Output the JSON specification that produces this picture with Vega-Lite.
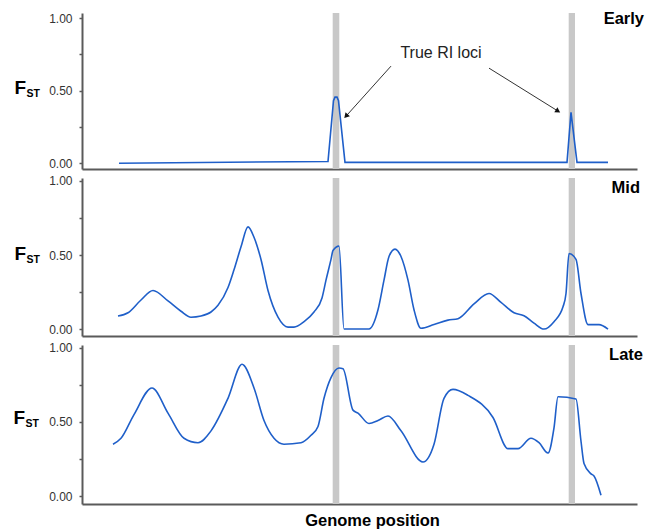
{
  "$schema": "https://vega.github.io/schema/vega-lite/v6.json",
  "padding": {"left": 13, "top": 11, "right": 4, "bottom": 2},
  "spacing": 9,
  "bounds": "flush",
  "config": {
    "font": "Liberation Sans",
    "view": {"stroke": null},
    "axis": {
      "grid": false,
      "labelFont": "Liberation Sans",
      "labelFontSize": 12,
      "labelColor": "#333333",
      "domainColor": "#5a5a5a",
      "domainWidth": 2,
      "tickColor": "#5a5a5a",
      "tickSize": 3,
      "tickWidth": 1.5,
      "labelPadding": 7,
      "titleFont": "Liberation Sans",
      "titleColor": "#000000"
    }
  },
  "datasets": {
    "loci": [
      {"start": 250.7, "end": 257.3},
      {"start": 486.7, "end": 493}
    ],
    "early": [
      {"pos": 37, "fst": 0.0},
      {"pos": 246, "fst": 0.012},
      {"pos": 251.5, "fst": 0.43},
      {"pos": 253, "fst": 0.455},
      {"pos": 255, "fst": 0.455},
      {"pos": 256.5, "fst": 0.43},
      {"pos": 263, "fst": 0.006},
      {"pos": 485, "fst": 0.006},
      {"pos": 489, "fst": 0.35},
      {"pos": 495, "fst": 0.006},
      {"pos": 526, "fst": 0.006}
    ],
    "mid": [
      {"pos": 36, "fst": 0.088},
      {"pos": 46, "fst": 0.11},
      {"pos": 59, "fst": 0.196},
      {"pos": 71, "fst": 0.26},
      {"pos": 86, "fst": 0.19},
      {"pos": 99, "fst": 0.12},
      {"pos": 109, "fst": 0.08},
      {"pos": 119, "fst": 0.088},
      {"pos": 129, "fst": 0.115},
      {"pos": 136, "fst": 0.16},
      {"pos": 146, "fst": 0.28},
      {"pos": 152, "fst": 0.4},
      {"pos": 159, "fst": 0.555},
      {"pos": 166, "fst": 0.69},
      {"pos": 172, "fst": 0.62},
      {"pos": 179, "fst": 0.47},
      {"pos": 186, "fst": 0.26},
      {"pos": 196, "fst": 0.08},
      {"pos": 206, "fst": 0.013},
      {"pos": 212, "fst": 0.013},
      {"pos": 222, "fst": 0.05},
      {"pos": 232, "fst": 0.115},
      {"pos": 240, "fst": 0.21},
      {"pos": 244, "fst": 0.33},
      {"pos": 249, "fst": 0.47},
      {"pos": 251, "fst": 0.53},
      {"pos": 257, "fst": 0.56},
      {"pos": 262, "fst": 0.0},
      {"pos": 287, "fst": 0.0},
      {"pos": 296, "fst": 0.13},
      {"pos": 302, "fst": 0.33},
      {"pos": 307, "fst": 0.49},
      {"pos": 313, "fst": 0.54},
      {"pos": 319, "fst": 0.49},
      {"pos": 326, "fst": 0.33},
      {"pos": 332, "fst": 0.13},
      {"pos": 339, "fst": 0.005},
      {"pos": 352, "fst": 0.03},
      {"pos": 366, "fst": 0.06},
      {"pos": 376, "fst": 0.07},
      {"pos": 392, "fst": 0.17},
      {"pos": 407, "fst": 0.24},
      {"pos": 419, "fst": 0.18},
      {"pos": 432, "fst": 0.11},
      {"pos": 442, "fst": 0.09},
      {"pos": 452, "fst": 0.04},
      {"pos": 462, "fst": 0.0},
      {"pos": 472, "fst": 0.05},
      {"pos": 481, "fst": 0.15},
      {"pos": 484, "fst": 0.24},
      {"pos": 487, "fst": 0.51},
      {"pos": 494, "fst": 0.47},
      {"pos": 499, "fst": 0.24},
      {"pos": 506, "fst": 0.03},
      {"pos": 517, "fst": 0.03},
      {"pos": 526, "fst": 0.0}
    ],
    "late": [
      {"pos": 31, "fst": 0.35},
      {"pos": 39, "fst": 0.39},
      {"pos": 52, "fst": 0.55},
      {"pos": 70, "fst": 0.73},
      {"pos": 86, "fst": 0.56},
      {"pos": 102, "fst": 0.39},
      {"pos": 116, "fst": 0.36},
      {"pos": 129, "fst": 0.44},
      {"pos": 146, "fst": 0.66},
      {"pos": 160, "fst": 0.89},
      {"pos": 172, "fst": 0.73},
      {"pos": 182, "fst": 0.51},
      {"pos": 192, "fst": 0.39},
      {"pos": 202, "fst": 0.35},
      {"pos": 219, "fst": 0.36},
      {"pos": 229, "fst": 0.41},
      {"pos": 236, "fst": 0.47},
      {"pos": 242, "fst": 0.66},
      {"pos": 249, "fst": 0.8},
      {"pos": 257, "fst": 0.865},
      {"pos": 261, "fst": 0.86},
      {"pos": 271, "fst": 0.58},
      {"pos": 276, "fst": 0.56},
      {"pos": 287, "fst": 0.49},
      {"pos": 296, "fst": 0.51},
      {"pos": 306, "fst": 0.54},
      {"pos": 319, "fst": 0.44},
      {"pos": 341, "fst": 0.23},
      {"pos": 352, "fst": 0.35},
      {"pos": 362, "fst": 0.66},
      {"pos": 371, "fst": 0.72},
      {"pos": 386, "fst": 0.68},
      {"pos": 411, "fst": 0.53},
      {"pos": 426, "fst": 0.32},
      {"pos": 436, "fst": 0.32},
      {"pos": 449, "fst": 0.39},
      {"pos": 457, "fst": 0.36},
      {"pos": 466, "fst": 0.29},
      {"pos": 472, "fst": 0.46},
      {"pos": 476, "fst": 0.67},
      {"pos": 494, "fst": 0.655},
      {"pos": 499, "fst": 0.37},
      {"pos": 502, "fst": 0.22},
      {"pos": 509, "fst": 0.15},
      {"pos": 512, "fst": 0.135},
      {"pos": 519, "fst": 0.005}
    ],
    "arrows": [
      {"id": "left", "pos": 309, "fst": 0.669, "pos2": 264, "fst2": 0.324},
      {"id": "right", "pos": 407, "fst": 0.655, "pos2": 476, "fst2": 0.359}
    ]
  },
  "vconcat": [
    {
      "width": 555,
      "height": 156,
      "resolve": {"axis": {"y": "independent"}},
      "layer": [
        {
          "data": {"name": "loci"},
          "mark": {"type": "rect", "color": "#c8c8c8"},
          "encoding": {
            "x": {"field": "start", "type": "quantitative", "scale": {"domain": [0, 555], "nice": false, "zero": false}},
            "x2": {"field": "end"}
          }
        },
        {
          "data": {"name": "early"},
          "mark": {"type": "line", "color": "#1f5fc9", "strokeWidth": 1.6, "interpolate": "linear"},
          "encoding": {
            "x": {"field": "pos", "type": "quantitative", "scale": {"domain": [0, 555], "nice": false, "zero": false},
                  "axis": {"title": null, "labels": false, "ticks": false}},
            "y": {"field": "fst", "type": "quantitative", "scale": {"domain": [-0.04, 1.035], "nice": false, "zero": false},
                  "axis": {"values": [0, 0.25, 0.5, 0.75, 1],
                           "labelExpr": "datum.value == 0.25 || datum.value == 0.75 ? '' : format(datum.value, '.2f')",
                           "title": "F", "titleAngle": 0, "titleFontSize": 19, "titleFontWeight": "bold",
                           "titleAlign": "left", "titleBaseline": "middle", "titleX": -68, "titleY": 74}}
          }
        },
        {
          "data": {"values": [{"pos": 555, "fst": 0.993, "label": "Early"}]},
          "mark": {"type": "text", "align": "right", "baseline": "middle", "dx": 7, "fontSize": 16.5, "fontWeight": "bold", "color": "#000000"},
          "encoding": {
            "x": {"field": "pos", "type": "quantitative", "scale": {"domain": [0, 555], "nice": false, "zero": false}},
            "y": {"field": "fst", "type": "quantitative", "scale": {"domain": [-0.04, 1.035], "nice": false, "zero": false},
                  "axis": {"orient": "left", "title": "ST", "labels": false, "ticks": false, "domain": false,
                           "titleAngle": 0, "titleFontSize": 10.5, "titleFontWeight": "bold",
                           "titleAlign": "left", "titleBaseline": "middle", "titleX": -56, "titleY": 80}},
            "text": {"field": "label"}
          }
        },
        {
          "data": {"values": [{"pos": 359, "fst": 0.759, "label": "True RI loci"}]},
          "mark": {"type": "text", "align": "center", "baseline": "middle", "fontSize": 16, "color": "#222222"},
          "encoding": {
            "x": {"field": "pos", "type": "quantitative", "scale": {"domain": [0, 555], "nice": false, "zero": false}},
            "y": {"field": "fst", "type": "quantitative", "scale": {"domain": [-0.04, 1.035], "nice": false, "zero": false}, "axis": null},
            "text": {"field": "label"}
          }
        },
        {
          "data": {"name": "arrows"},
          "mark": {"type": "rule", "color": "#333333", "strokeWidth": 1},
          "encoding": {
            "x": {"field": "pos", "type": "quantitative", "scale": {"domain": [0, 555], "nice": false, "zero": false}},
            "x2": {"field": "pos2"},
            "y": {"field": "fst", "type": "quantitative", "scale": {"domain": [-0.04, 1.035], "nice": false, "zero": false}, "axis": null},
            "y2": {"field": "fst2"}
          }
        },
        {
          "data": {"name": "arrows"},
          "transform": [{"filter": "datum.id == 'left'"}],
          "mark": {"type": "point", "shape": "triangle-up", "filled": true, "color": "#111111", "size": 35, "angle": 222, "opacity": 1},
          "encoding": {
            "x": {"field": "pos2", "type": "quantitative", "scale": {"domain": [0, 555], "nice": false, "zero": false}},
            "y": {"field": "fst2", "type": "quantitative", "scale": {"domain": [-0.04, 1.035], "nice": false, "zero": false}, "axis": null}
          }
        },
        {
          "data": {"name": "arrows"},
          "transform": [{"filter": "datum.id == 'right'"}],
          "mark": {"type": "point", "shape": "triangle-up", "filled": true, "color": "#111111", "size": 35, "angle": 122, "opacity": 1},
          "encoding": {
            "x": {"field": "pos2", "type": "quantitative", "scale": {"domain": [0, 555], "nice": false, "zero": false}},
            "y": {"field": "fst2", "type": "quantitative", "scale": {"domain": [-0.04, 1.035], "nice": false, "zero": false}, "axis": null}
          }
        }
      ]
    },
    {
      "width": 555,
      "height": 158,
      "resolve": {"axis": {"y": "independent"}},
      "layer": [
        {
          "data": {"name": "loci"},
          "mark": {"type": "rect", "color": "#c8c8c8"},
          "encoding": {
            "x": {"field": "start", "type": "quantitative", "scale": {"domain": [0, 555], "nice": false, "zero": false}},
            "x2": {"field": "end"}
          }
        },
        {
          "data": {"name": "mid"},
          "mark": {"type": "line", "color": "#1f5fc9", "strokeWidth": 1.6, "interpolate": "monotone"},
          "encoding": {
            "x": {"field": "pos", "type": "quantitative", "scale": {"domain": [0, 555], "nice": false, "zero": false},
                  "axis": {"title": null, "labels": false, "ticks": false}},
            "y": {"field": "fst", "type": "quantitative", "scale": {"domain": [-0.047, 1.02], "nice": false, "zero": false},
                  "axis": {"values": [0, 0.25, 0.5, 0.75, 1],
                           "labelExpr": "datum.value == 0.25 || datum.value == 0.75 ? '' : format(datum.value, '.2f')",
                           "title": "F", "titleAngle": 0, "titleFontSize": 19, "titleFontWeight": "bold",
                           "titleAlign": "left", "titleBaseline": "middle", "titleX": -68, "titleY": 75}}
          }
        },
        {
          "data": {"values": [{"pos": 555, "fst": 0.953, "label": "Mid"}]},
          "mark": {"type": "text", "align": "right", "baseline": "middle", "dx": 3, "fontSize": 16.5, "fontWeight": "bold", "color": "#000000"},
          "encoding": {
            "x": {"field": "pos", "type": "quantitative", "scale": {"domain": [0, 555], "nice": false, "zero": false}},
            "y": {"field": "fst", "type": "quantitative", "scale": {"domain": [-0.047, 1.02], "nice": false, "zero": false},
                  "axis": {"orient": "left", "title": "ST", "labels": false, "ticks": false, "domain": false,
                           "titleAngle": 0, "titleFontSize": 10.5, "titleFontWeight": "bold",
                           "titleAlign": "left", "titleBaseline": "middle", "titleX": -56, "titleY": 81}},
            "text": {"field": "label"}
          }
        }
      ]
    },
    {
      "width": 555,
      "height": 159,
      "resolve": {"axis": {"y": "independent"}},
      "layer": [
        {
          "data": {"name": "loci"},
          "mark": {"type": "rect", "color": "#c8c8c8"},
          "encoding": {
            "x": {"field": "start", "type": "quantitative", "scale": {"domain": [0, 555], "nice": false, "zero": false}},
            "x2": {"field": "end"}
          }
        },
        {
          "data": {"name": "late"},
          "mark": {"type": "line", "color": "#1f5fc9", "strokeWidth": 1.6, "interpolate": "monotone"},
          "encoding": {
            "x": {"field": "pos", "type": "quantitative", "scale": {"domain": [0, 555], "nice": false, "zero": false},
                  "axis": {"title": "Genome position", "labels": false, "ticks": false,
                           "titleFontSize": 16.5, "titleFontWeight": "bold", "titleX": 290, "titlePadding": 8}},
            "y": {"field": "fst", "type": "quantitative", "scale": {"domain": [-0.054, 1.02], "nice": false, "zero": false},
                  "axis": {"values": [0, 0.25, 0.5, 0.75, 1],
                           "labelExpr": "datum.value == 0.25 || datum.value == 0.75 ? '' : format(datum.value, '.2f')",
                           "title": "F", "titleAngle": 0, "titleFontSize": 19, "titleFontWeight": "bold",
                           "titleAlign": "left", "titleBaseline": "middle", "titleX": -69, "titleY": 72}}
          }
        },
        {
          "data": {"values": [{"pos": 555, "fst": 0.953, "label": "Late"}]},
          "mark": {"type": "text", "align": "right", "baseline": "middle", "dx": 6, "fontSize": 16.5, "fontWeight": "bold", "color": "#000000"},
          "encoding": {
            "x": {"field": "pos", "type": "quantitative", "scale": {"domain": [0, 555], "nice": false, "zero": false}},
            "y": {"field": "fst", "type": "quantitative", "scale": {"domain": [-0.054, 1.02], "nice": false, "zero": false},
                  "axis": {"orient": "left", "title": "ST", "labels": false, "ticks": false, "domain": false,
                           "titleAngle": 0, "titleFontSize": 10.5, "titleFontWeight": "bold",
                           "titleAlign": "left", "titleBaseline": "middle", "titleX": -57, "titleY": 78}},
            "text": {"field": "label"}
          }
        }
      ]
    }
  ]
}
